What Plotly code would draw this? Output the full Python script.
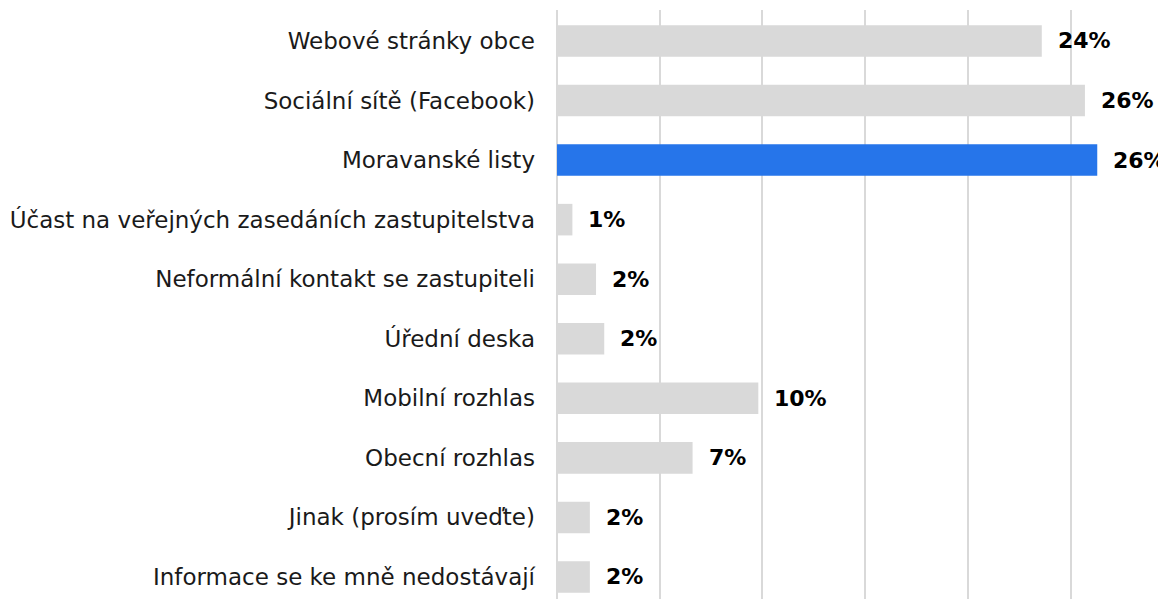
import plotly.graph_objects as go

# Answer categories, top to bottom
categories = [
    "Webové stránky obce",
    "Sociální sítě (Facebook)",
    "Moravanské listy",
    "Účast na veřejných zasedáních zastupitelstva",
    "Neformální kontakt se zastupiteli",
    "Úřední deska",
    "Mobilní rozhlas",
    "Obecní rozhlas",
    "Jinak (prosím uveďte)",
    "Informace se ke mně nedostávají",
]
# Share of respondents (%)
values = [23.6, 25.7, 26.3, 0.75, 1.9, 2.3, 9.8, 6.6, 1.6, 1.6]
# Labels as printed next to the bars
labels = ["24%", "26%", "26%", "1%", "2%", "2%", "10%", "7%", "2%", "2%"]

highlight = "Moravanské listy"
bar_colors = ["#2675ea" if c == highlight else "#d9d9d9" for c in categories]

fig = go.Figure()
fig.add_trace(go.Bar(
    x=values,
    y=categories,
    orientation="h",
    marker=dict(color=bar_colors, line=dict(width=0)),
    hoverinfo="x+y",
))

# Percent labels to the right of each bar
for cat, val, lab in zip(categories, values, labels):
    fig.add_annotation(
        x=val, y=cat, text="<b>" + lab + "</b>",
        xanchor="left", yanchor="middle", xshift=14, showarrow=False,
        font=dict(family="DejaVu Sans", size=22, color="#000000"),
    )

# page body has an 8px margin, so the figure is sized to fill the rest
fig.update_layout(
    width=1158,
    height=591,
    plot_bgcolor="white",
    paper_bgcolor="white",
    showlegend=False,
    bargap=0.47,
    margin=dict(l=549, r=10, t=2, b=0),
    font=dict(family="DejaVu Sans", color="#222222"),
    xaxis=dict(
        range=[0, 29.16],
        dtick=5,
        showticklabels=False,
        showgrid=True,
        gridcolor="#d9d9d9",
        gridwidth=1.5,
        zeroline=True,
        zerolinecolor="#d9d9d9",
        zerolinewidth=1.5,
        fixedrange=True,
    ),
    yaxis=dict(
        categoryorder="array",
        categoryarray=categories,
        range=[9.37, -0.52],
        tickfont=dict(family="DejaVu Sans", size=23, color="#1a1a1a"),
        ticks="",
        ticklabelstandoff=21,
        showgrid=False,
        fixedrange=True,
    ),
)

fig.write_html("out.html")
